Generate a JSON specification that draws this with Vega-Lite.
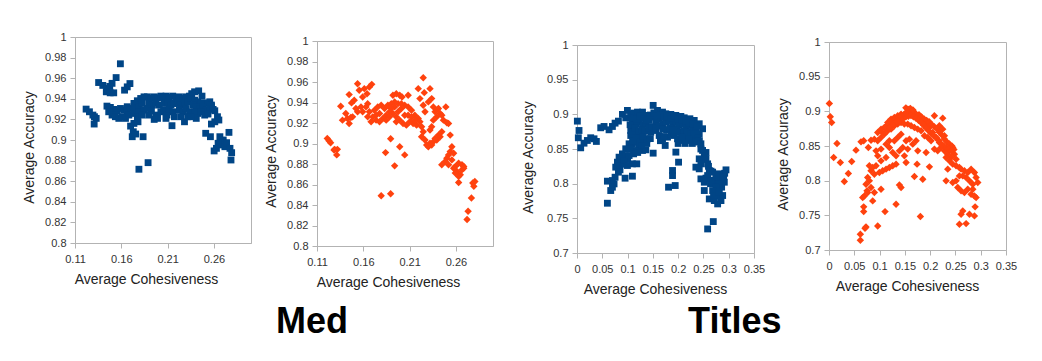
{
 "$schema": "https://vega.github.io/schema/vega-lite/v6.json",
 "background": "white",
 "padding": {"left": 22, "top": 30, "right": 5, "bottom": 5},
 "config": {
   "font": "Liberation Sans",
   "view": {"stroke": "#b3b3b3", "strokeWidth": 1},
   "axis": {"grid": false, "domainColor": "#b3b3b3", "tickColor": "#b3b3b3", "tickSize": 5, "labelFont": "Liberation Sans", "labelFontSize": 11, "labelColor": "#333333", "titleFont": "Liberation Sans", "titleFontSize": 14, "titleFontWeight": "normal", "titleColor": "#222222", "labelFlush": false, "labelOverlap": false, "labelPadding": 4, "titlePadding": 8},
   "axisX": {"labelPadding": 5, "titlePadding": 8}
 },
 "datasets": {
  "p1": [
   {"c":0.159,"a":0.974},{"c":0.1544,"a":0.9606},{"c":0.1355,"a":0.9558},{"c":0.140,"a":0.953},{"c":0.1445,"a":0.950},{"c":0.1475,"a":0.952},{"c":0.150,"a":0.955},{"c":0.1438,"a":0.9468},{"c":0.148,"a":0.9458},{"c":0.1518,"a":0.9458},{"c":0.1693,"a":0.9548},{"c":0.1664,"a":0.9516},{"c":0.1635,"a":0.9484},
   {"c":0.122,"a":0.930},{"c":0.1256,"a":0.9274},{"c":0.1293,"a":0.9242},{"c":0.1329,"a":0.921},{"c":0.1307,"a":0.9155},{"c":0.131,"a":0.9226},
   {"c":0.1736,"a":0.9161},{"c":0.178,"a":0.9177},{"c":0.170,"a":0.9135},{"c":0.1729,"a":0.908},{"c":0.1718,"a":0.9032},{"c":0.1755,"a":0.9058},{"c":0.1835,"a":0.9032},{"c":0.2147,"a":0.9139},{"c":0.1889,"a":0.878},{"c":0.179,"a":0.8716},
   {"c":0.2391,"a":0.9468},{"c":0.2435,"a":0.9477},{"c":0.236,"a":0.945},{"c":0.2471,"a":0.9426},{"c":0.2555,"a":0.9371},{"c":0.2573,"a":0.9323},{"c":0.2609,"a":0.9284},{"c":0.2638,"a":0.9226},{"c":0.2609,"a":0.9177},{"c":0.2573,"a":0.9155},{"c":0.2653,"a":0.9194},{"c":0.2511,"a":0.9065},{"c":0.2562,"a":0.9032},{"c":0.2664,"a":0.9032},{"c":0.2762,"a":0.9074},{"c":0.27,"a":0.90},{"c":0.2682,"a":0.8952},{"c":0.2645,"a":0.8968},{"c":0.2602,"a":0.8894},{"c":0.2627,"a":0.8919},{"c":0.2718,"a":0.8935},{"c":0.2736,"a":0.8974},{"c":0.2773,"a":0.8919},{"c":0.2791,"a":0.8877},{"c":0.2784,"a":0.8806},
   {"c":0.1445,"a":0.9329},{"c":0.1482,"a":0.9316},{"c":0.1518,"a":0.9297},{"c":0.1555,"a":0.9284},{"c":0.15,"a":0.9242},{"c":0.1536,"a":0.9226},{"c":0.1573,"a":0.921},{"c":0.1464,"a":0.9274},{"c":0.1591,"a":0.9306},{"c":0.1627,"a":0.929},{"c":0.1664,"a":0.9274},{"c":0.1609,"a":0.9226},{"c":0.1645,"a":0.921},{"c":0.1682,"a":0.9242},{"c":0.17,"a":0.9306},{"c":0.1664,"a":0.9323},
   {"c":0.1736,"a":0.9355},{"c":0.1773,"a":0.9381},{"c":0.1809,"a":0.9403},{"c":0.1845,"a":0.9419},{"c":0.1755,"a":0.9306},{"c":0.1791,"a":0.9323},{"c":0.1827,"a":0.9355},{"c":0.1736,"a":0.9258},{"c":0.1791,"a":0.9274},{"c":0.1845,"a":0.929},{"c":0.1773,"a":0.9226},{"c":0.1827,"a":0.9242},
   {"c":0.1882,"a":0.9419},{"c":0.1918,"a":0.9403},{"c":0.1955,"a":0.9419},{"c":0.1991,"a":0.941},{"c":0.2027,"a":0.9426},{"c":0.19,"a":0.9355},{"c":0.1936,"a":0.9339},{"c":0.1973,"a":0.9361},{"c":0.2009,"a":0.9339},{"c":0.1882,"a":0.9306},{"c":0.1925,"a":0.9284},{"c":0.1973,"a":0.9242},{"c":0.1991,"a":0.921},{"c":0.1955,"a":0.92},{"c":0.2027,"a":0.9274},{"c":0.19,"a":0.9242},
   {"c":0.2045,"a":0.9419},{"c":0.2082,"a":0.9426},{"c":0.2118,"a":0.9413},{"c":0.2155,"a":0.9426},{"c":0.2064,"a":0.9355},{"c":0.21,"a":0.9361},{"c":0.2136,"a":0.9339},{"c":0.2173,"a":0.9355},{"c":0.2056,"a":0.929},{"c":0.2093,"a":0.9242},{"c":0.2118,"a":0.9297},{"c":0.2155,"a":0.9274},{"c":0.2082,"a":0.921},{"c":0.2173,"a":0.9226},
   {"c":0.2191,"a":0.9403},{"c":0.2227,"a":0.9419},{"c":0.2264,"a":0.9403},{"c":0.23,"a":0.9419},{"c":0.2336,"a":0.9426},{"c":0.2209,"a":0.9355},{"c":0.2245,"a":0.9339},{"c":0.2282,"a":0.9355},{"c":0.2318,"a":0.9371},{"c":0.2227,"a":0.929},{"c":0.2264,"a":0.9274},{"c":0.23,"a":0.9306},{"c":0.2245,"a":0.9226},{"c":0.2282,"a":0.9177},{"c":0.2336,"a":0.9274},{"c":0.2318,"a":0.9226},
   {"c":0.2355,"a":0.9403},{"c":0.2391,"a":0.9387},{"c":0.2427,"a":0.9371},{"c":0.2464,"a":0.9355},{"c":0.25,"a":0.9361},{"c":0.2536,"a":0.9355},{"c":0.2573,"a":0.9339},{"c":0.2373,"a":0.9339},{"c":0.2409,"a":0.9323},{"c":0.2445,"a":0.9306},{"c":0.2482,"a":0.9316},{"c":0.2518,"a":0.929},{"c":0.2555,"a":0.9306},{"c":0.2591,"a":0.9297},{"c":0.2391,"a":0.9274},{"c":0.2427,"a":0.9258},{"c":0.2464,"a":0.9274},{"c":0.25,"a":0.9242},{"c":0.2536,"a":0.9252},{"c":0.2409,"a":0.921},{"c":0.2355,"a":0.9226}
  ],
  "p2": [
   {"c":0.1211,"a":0.905},{"c":0.1229,"a":0.9027},{"c":0.1247,"a":0.9008},{"c":0.1291,"a":0.8943},{"c":0.132,"a":0.8943},{"c":0.1313,"a":0.8889},{"c":0.1284,"a":0.8937},
   {"c":0.1356,"a":0.9363},{"c":0.1375,"a":0.9228},{"c":0.1411,"a":0.9292},{"c":0.1429,"a":0.9244},{"c":0.1447,"a":0.9195},{"c":0.1465,"a":0.9254},{"c":0.1447,"a":0.9477},{"c":0.1473,"a":0.9396},{"c":0.1502,"a":0.9422},{"c":0.152,"a":0.9341},{"c":0.1538,"a":0.9583},{"c":0.1556,"a":0.9519},{"c":0.1575,"a":0.9357},{"c":0.1593,"a":0.9454},{"c":0.1611,"a":0.9535},{"c":0.164,"a":0.9486},{"c":0.1665,"a":0.9551},{"c":0.1691,"a":0.9577},{"c":0.1647,"a":0.9389},{"c":0.1538,"a":0.9309},{"c":0.1593,"a":0.9309},{"c":0.1484,"a":0.926},
   {"c":0.1629,"a":0.9357},{"c":0.1665,"a":0.9309},{"c":0.1702,"a":0.926},{"c":0.1738,"a":0.9228},{"c":0.1775,"a":0.9212},{"c":0.1647,"a":0.926},{"c":0.1684,"a":0.9212},{"c":0.172,"a":0.9325},{"c":0.1756,"a":0.9357},{"c":0.1793,"a":0.9373},{"c":0.1829,"a":0.9341},{"c":0.1865,"a":0.9373},{"c":0.1902,"a":0.9389},{"c":0.1938,"a":0.9406},{"c":0.192,"a":0.947},{"c":0.1956,"a":0.9486},{"c":0.1993,"a":0.947},{"c":0.2018,"a":0.9454},{"c":0.2047,"a":0.9373},{"c":0.2084,"a":0.9357},{"c":0.212,"a":0.9325},{"c":0.2156,"a":0.9276},{"c":0.2193,"a":0.9244},{"c":0.2211,"a":0.9212},{"c":0.2175,"a":0.9179},{"c":0.2138,"a":0.9195},{"c":0.2102,"a":0.9212},{"c":0.2065,"a":0.9179},{"c":0.2029,"a":0.9195},{"c":0.1993,"a":0.9228},{"c":0.1956,"a":0.926},{"c":0.192,"a":0.9292},{"c":0.1884,"a":0.9309},{"c":0.1847,"a":0.9276},{"c":0.1811,"a":0.9244},{"c":0.1775,"a":0.9292},{"c":0.1738,"a":0.9276},{"c":0.1975,"a":0.9309},{"c":0.2011,"a":0.9341},{"c":0.2047,"a":0.9276},{"c":0.2084,"a":0.9276},{"c":0.212,"a":0.926},{"c":0.2156,"a":0.9228},{"c":0.1938,"a":0.9357},{"c":0.1902,"a":0.9341},{"c":0.1975,"a":0.9389},{"c":0.2011,"a":0.9389},{"c":0.1847,"a":0.9228},{"c":0.1884,"a":0.926},{"c":0.1956,"a":0.9212},{"c":0.2084,"a":0.947},
   {"c":0.2247,"a":0.9641},{"c":0.2193,"a":0.9535},{"c":0.2258,"a":0.9496},{"c":0.232,"a":0.9535},{"c":0.2211,"a":0.9438},{"c":0.2247,"a":0.9373},{"c":0.2302,"a":0.9406},{"c":0.2338,"a":0.9438},{"c":0.2266,"a":0.9309},{"c":0.2356,"a":0.9357},{"c":0.2375,"a":0.9309},{"c":0.2411,"a":0.9341},{"c":0.2429,"a":0.9292},{"c":0.2393,"a":0.926},{"c":0.2447,"a":0.9276},{"c":0.2491,"a":0.9357},{"c":0.2465,"a":0.9228},{"c":0.2502,"a":0.9202},{"c":0.252,"a":0.9195},{"c":0.2356,"a":0.9228},{"c":0.2338,"a":0.9163},{"c":0.232,"a":0.9131},
   {"c":0.2229,"a":0.9163},{"c":0.2247,"a":0.9115},{"c":0.2229,"a":0.9066},{"c":0.2266,"a":0.9034},{"c":0.2284,"a":0.8985},{"c":0.232,"a":0.9002},{"c":0.2356,"a":0.9018},{"c":0.2393,"a":0.9034},{"c":0.2429,"a":0.9066},{"c":0.2447,"a":0.9115},{"c":0.2411,"a":0.9082},{"c":0.2375,"a":0.905},{"c":0.2302,"a":0.8969},{"c":0.2338,"a":0.8985},{"c":0.2538,"a":0.9082},
   {"c":0.2556,"a":0.8969},{"c":0.2538,"a":0.8921},{"c":0.252,"a":0.8889},{"c":0.2502,"a":0.8856},{"c":0.2484,"a":0.8824},{"c":0.2447,"a":0.8792},{"c":0.252,"a":0.8792},{"c":0.2556,"a":0.884},{"c":0.2575,"a":0.8905},{"c":0.2593,"a":0.8775},{"c":0.2629,"a":0.8808},{"c":0.2665,"a":0.8792},{"c":0.2684,"a":0.8759},{"c":0.2611,"a":0.8727},{"c":0.2647,"a":0.8695},{"c":0.2665,"a":0.8743},{"c":0.2575,"a":0.8759},{"c":0.2593,"a":0.8711},{"c":0.2629,"a":0.8679},{"c":0.2629,"a":0.862},{"c":0.2684,"a":0.8775},
   {"c":0.2782,"a":0.8614},{"c":0.2804,"a":0.863},{"c":0.2793,"a":0.8582},{"c":0.2767,"a":0.8468},{"c":0.2731,"a":0.8339},{"c":0.272,"a":0.8258},
   {"c":0.1895,"a":0.9047},{"c":0.184,"a":0.8911},{"c":0.1993,"a":0.8969},{"c":0.2047,"a":0.8889},{"c":0.1938,"a":0.8782},{"c":0.1793,"a":0.8491},{"c":0.1895,"a":0.851}
  ],
  "p3": [
   {"c":0.0007,"a":0.8902},{"c":0.004,"a":0.8767},{"c":0.0026,"a":0.8662},{"c":0.0073,"a":0.8517},{"c":0.0139,"a":0.8584},{"c":0.0205,"a":0.8623},{"c":0.0271,"a":0.8662},{"c":0.0337,"a":0.8647},{"c":0.0383,"a":0.8609},{"c":0.0469,"a":0.8806},{"c":0.0535,"a":0.8825},{"c":0.0634,"a":0.8777},{"c":0.07,"a":0.8825},{"c":0.0753,"a":0.8873},{"c":0.0819,"a":0.8902},
   {"c":0.0898,"a":0.8999},{"c":0.0997,"a":0.9056},{"c":0.0964,"a":0.895},{"c":0.1063,"a":0.9008},{"c":0.1129,"a":0.9018},{"c":0.1196,"a":0.9032},{"c":0.1295,"a":0.9032},{"c":0.1361,"a":0.8984},{"c":0.1506,"a":0.9129},{"c":0.1592,"a":0.9056},{"c":0.1691,"a":0.9032},{"c":0.1757,"a":0.9008},{"c":0.1856,"a":0.8999},{"c":0.1955,"a":0.8984},{"c":0.2054,"a":0.897},{"c":0.212,"a":0.895},{"c":0.2232,"a":0.8936},{"c":0.2318,"a":0.8912},{"c":0.2417,"a":0.8864},{"c":0.2483,"a":0.8792},
   {"c":0.1096,"a":0.8912},{"c":0.1162,"a":0.8864},{"c":0.1229,"a":0.8888},{"c":0.1295,"a":0.884},{"c":0.1361,"a":0.8864},{"c":0.1427,"a":0.8912},{"c":0.1493,"a":0.896},{"c":0.1559,"a":0.8888},{"c":0.1625,"a":0.8936},{"c":0.1691,"a":0.8864},{"c":0.1757,"a":0.8888},{"c":0.1823,"a":0.8912},{"c":0.1889,"a":0.8864},{"c":0.1955,"a":0.8888},{"c":0.2021,"a":0.884},{"c":0.2087,"a":0.8864},{"c":0.2153,"a":0.8816},{"c":0.2219,"a":0.884},{"c":0.2285,"a":0.8792},{"c":0.2351,"a":0.8767},{"c":0.2417,"a":0.8719},
   {"c":0.1129,"a":0.8767},{"c":0.1196,"a":0.8719},{"c":0.1262,"a":0.8671},{"c":0.1328,"a":0.8623},{"c":0.1394,"a":0.8647},{"c":0.146,"a":0.8743},{"c":0.1559,"a":0.8767},{"c":0.1625,"a":0.8695},{"c":0.1691,"a":0.8647},{"c":0.1744,"a":0.8551},{"c":0.179,"a":0.8671},{"c":0.1856,"a":0.8719},{"c":0.1922,"a":0.8695},{"c":0.1988,"a":0.8647},{"c":0.2054,"a":0.8623},{"c":0.212,"a":0.8671},{"c":0.2186,"a":0.8695},{"c":0.2252,"a":0.8623},{"c":0.2318,"a":0.8647},{"c":0.1063,"a":0.8695},{"c":0.103,"a":0.8575},{"c":0.1096,"a":0.8575},{"c":0.1162,"a":0.8599},{"c":0.1229,"a":0.8527},{"c":0.1295,"a":0.8479},{"c":0.1361,"a":0.8488},{"c":0.1506,"a":0.844},{"c":0.1955,"a":0.8455},{"c":0.2008,"a":0.831},{"c":0.1889,"a":0.819},{"c":0.1889,"a":0.8117},{"c":0.181,"a":0.7949},{"c":0.1942,"a":0.7973},{"c":0.1063,"a":0.8767},{"c":0.1149,"a":0.8479},
   {"c":0.105,"a":0.885},{"c":0.112,"a":0.895},{"c":0.118,"a":0.893},{"c":0.125,"a":0.898},{"c":0.132,"a":0.894},{"c":0.138,"a":0.892},{"c":0.145,"a":0.899},{"c":0.152,"a":0.902},{"c":0.158,"a":0.898},{"c":0.165,"a":0.899},{"c":0.172,"a":0.896},{"c":0.178,"a":0.898},{"c":0.185,"a":0.894},{"c":0.192,"a":0.897},{"c":0.2,"a":0.893},{"c":0.208,"a":0.892},{"c":0.215,"a":0.89},{"c":0.222,"a":0.888},{"c":0.23,"a":0.886},{"c":0.238,"a":0.883},
   {"c":0.108,"a":0.874},{"c":0.115,"a":0.88},{"c":0.122,"a":0.876},{"c":0.128,"a":0.878},{"c":0.135,"a":0.876},{"c":0.142,"a":0.88},{"c":0.149,"a":0.882},{"c":0.156,"a":0.88},{"c":0.163,"a":0.883},{"c":0.17,"a":0.879},{"c":0.177,"a":0.878},{"c":0.184,"a":0.88},{"c":0.19,"a":0.878},{"c":0.197,"a":0.877},{"c":0.204,"a":0.874},{"c":0.211,"a":0.876},{"c":0.218,"a":0.874},{"c":0.225,"a":0.872},{"c":0.232,"a":0.871},{"c":0.239,"a":0.866},
   {"c":0.11,"a":0.862},{"c":0.117,"a":0.866},{"c":0.124,"a":0.86},{"c":0.131,"a":0.868},{"c":0.138,"a":0.858},{"c":0.145,"a":0.865},{"c":0.165,"a":0.862},{"c":0.172,"a":0.868},{"c":0.2,"a":0.858},{"c":0.207,"a":0.867},{"c":0.214,"a":0.858},{"c":0.221,"a":0.865},{"c":0.228,"a":0.858},{"c":0.235,"a":0.86},{"c":0.242,"a":0.862},
   {"c":0.105,"a":0.85},{"c":0.112,"a":0.843},{"c":0.12,"a":0.845},{"c":0.128,"a":0.855},{"c":0.095,"a":0.84},{"c":0.1,"a":0.835},{"c":0.088,"a":0.828},{"c":0.085,"a":0.82},
   {"c":0.245,"a":0.85},{"c":0.25,"a":0.835},{"c":0.255,"a":0.845},{"c":0.26,"a":0.825},{"c":0.265,"a":0.818},{"c":0.27,"a":0.805},{"c":0.276,"a":0.8},{"c":0.282,"a":0.805},{"c":0.286,"a":0.795},{"c":0.29,"a":0.81},{"c":0.292,"a":0.815},{"c":0.278,"a":0.782},{"c":0.27,"a":0.785},{"c":0.264,"a":0.8},{"c":0.255,"a":0.808},
   {"c":0.0964,"a":0.8503},{"c":0.0898,"a":0.843},{"c":0.0832,"a":0.8382},{"c":0.0799,"a":0.831},{"c":0.0766,"a":0.8238},{"c":0.0865,"a":0.8358},{"c":0.0931,"a":0.8334},{"c":0.103,"a":0.8406},{"c":0.0997,"a":0.8262},{"c":0.1096,"a":0.8286},{"c":0.1182,"a":0.8286},{"c":0.0819,"a":0.8166},{"c":0.0753,"a":0.8093},{"c":0.07,"a":0.8045},{"c":0.0601,"a":0.8036},{"c":0.0733,"a":0.7997},{"c":0.0667,"a":0.7901},{"c":0.07,"a":0.7949},{"c":0.0601,"a":0.7718},{"c":0.0951,"a":0.8079},{"c":0.1096,"a":0.8108},
   {"c":0.245,"a":0.8575},{"c":0.2483,"a":0.8479},{"c":0.2517,"a":0.8406},{"c":0.2417,"a":0.8358},{"c":0.255,"a":0.8358},{"c":0.2583,"a":0.8286},{"c":0.245,"a":0.8286},{"c":0.2351,"a":0.8238},{"c":0.2417,"a":0.8214},{"c":0.2616,"a":0.819},{"c":0.2682,"a":0.8166},{"c":0.2583,"a":0.8117},{"c":0.245,"a":0.8069},{"c":0.2517,"a":0.8021},{"c":0.2649,"a":0.8045},{"c":0.2748,"a":0.8117},{"c":0.2814,"a":0.8142},{"c":0.288,"a":0.8093},{"c":0.2946,"a":0.8199},{"c":0.2913,"a":0.8021},{"c":0.2814,"a":0.7997},{"c":0.2748,"a":0.7949},{"c":0.2682,"a":0.7901},{"c":0.2616,"a":0.778},{"c":0.2715,"a":0.7756},{"c":0.2781,"a":0.7708},{"c":0.2847,"a":0.7756},{"c":0.288,"a":0.7829},{"c":0.2517,"a":0.7901},{"c":0.2715,"a":0.7829},{"c":0.2814,"a":0.7877},
   {"c":0.2583,"a":0.7347},{"c":0.2695,"a":0.7453}
  ],
  "p4": [
   {"c":0.0007,"a":0.9114},{"c":0.0026,"a":0.8922},{"c":0.0053,"a":0.884},{"c":0.0158,"a":0.8536},{"c":0.0092,"a":0.8334},{"c":0.0224,"a":0.8262},{"c":0.0303,"a":0.7988},{"c":0.0383,"a":0.8103},{"c":0.0449,"a":0.8276},{"c":0.0534,"a":0.844},{"c":0.0633,"a":0.856},{"c":0.0686,"a":0.8575},{"c":0.0778,"a":0.8479},{"c":0.0831,"a":0.8584},{"c":0.0897,"a":0.8599},
   {"c":0.0963,"a":0.8695},{"c":0.1029,"a":0.8743},{"c":0.1095,"a":0.8767},{"c":0.1161,"a":0.884},{"c":0.1227,"a":0.8888},{"c":0.1293,"a":0.8912},{"c":0.1359,"a":0.8936},{"c":0.1425,"a":0.896},{"c":0.1524,"a":0.8984},{"c":0.159,"a":0.9032},{"c":0.1656,"a":0.9008},{"c":0.1722,"a":0.896},{"c":0.1788,"a":0.8912},{"c":0.1854,"a":0.8864},{"c":0.192,"a":0.8816},{"c":0.1986,"a":0.8767},{"c":0.2084,"a":0.8936},{"c":0.2249,"a":0.8902},{"c":0.2183,"a":0.8792},{"c":0.2249,"a":0.8743},{"c":0.2282,"a":0.8647},{"c":0.2051,"a":0.8695},{"c":0.2117,"a":0.8623},{"c":0.2183,"a":0.8551},{"c":0.2249,"a":0.8503},{"c":0.2315,"a":0.8455},{"c":0.2381,"a":0.843},{"c":0.2447,"a":0.8479},{"c":0.248,"a":0.8382},{"c":0.2513,"a":0.831},{"c":0.2414,"a":0.8334},{"c":0.2348,"a":0.8382},{"c":0.2282,"a":0.843},{"c":0.2216,"a":0.8479},{"c":0.215,"a":0.843},{"c":0.2084,"a":0.8455},{"c":0.2018,"a":0.8575},{"c":0.1953,"a":0.8623},{"c":0.1887,"a":0.8647},{"c":0.1821,"a":0.8719},{"c":0.1755,"a":0.8743},{"c":0.1689,"a":0.8767},{"c":0.1623,"a":0.8792},{"c":0.1557,"a":0.8816},{"c":0.1491,"a":0.8816},{"c":0.1425,"a":0.884},{"c":0.1359,"a":0.8816},{"c":0.1293,"a":0.8792},{"c":0.1227,"a":0.8743},{"c":0.1161,"a":0.8719},{"c":0.1095,"a":0.8671},{"c":0.1029,"a":0.8623},{"c":0.0963,"a":0.8575},{"c":0.093,"a":0.843},{"c":0.0963,"a":0.8358},{"c":0.1029,"a":0.8455},{"c":0.1128,"a":0.8527},{"c":0.1194,"a":0.8479},{"c":0.126,"a":0.8406},{"c":0.1326,"a":0.8358},{"c":0.1392,"a":0.843},{"c":0.1458,"a":0.8479},{"c":0.1524,"a":0.8575},{"c":0.159,"a":0.8599},{"c":0.1656,"a":0.8527},{"c":0.1722,"a":0.8575},{"c":0.1557,"a":0.8455},{"c":0.1491,"a":0.8358},{"c":0.1425,"a":0.8671},{"c":0.1359,"a":0.8623},{"c":0.1293,"a":0.8575},{"c":0.1194,"a":0.8575},{"c":0.1755,"a":0.843},{"c":0.192,"a":0.8406},{"c":0.1986,"a":0.8199},{"c":0.1741,"a":0.8238},{"c":0.1689,"a":0.806},{"c":0.1854,"a":0.8021},{"c":0.1524,"a":0.8262},{"c":0.1128,"a":0.8334},{"c":0.1029,"a":0.8286},
   {"c":0.105,"a":0.87},{"c":0.112,"a":0.878},{"c":0.118,"a":0.882},{"c":0.124,"a":0.886},{"c":0.13,"a":0.888},{"c":0.136,"a":0.89},{"c":0.142,"a":0.893},{"c":0.148,"a":0.895},{"c":0.153,"a":0.897},{"c":0.158,"a":0.899},{"c":0.163,"a":0.9},{"c":0.168,"a":0.898},{"c":0.173,"a":0.895},{"c":0.178,"a":0.895},{"c":0.183,"a":0.892},{"c":0.188,"a":0.889},{"c":0.193,"a":0.887},{"c":0.198,"a":0.885},{"c":0.203,"a":0.881},{"c":0.208,"a":0.878},{"c":0.213,"a":0.875},{"c":0.218,"a":0.87},{"c":0.223,"a":0.866},{"c":0.228,"a":0.86},{"c":0.233,"a":0.856},{"c":0.238,"a":0.853},{"c":0.243,"a":0.85},{"c":0.247,"a":0.845},
   {"c":0.12,"a":0.877},{"c":0.127,"a":0.882},{"c":0.134,"a":0.885},{"c":0.14,"a":0.886},{"c":0.146,"a":0.889},{"c":0.152,"a":0.892},{"c":0.157,"a":0.893},{"c":0.162,"a":0.894},{"c":0.167,"a":0.892},{"c":0.172,"a":0.89},{"c":0.177,"a":0.887},{"c":0.182,"a":0.884},{"c":0.187,"a":0.88},{"c":0.192,"a":0.876},{"c":0.197,"a":0.872},{"c":0.202,"a":0.868},{"c":0.207,"a":0.865},{"c":0.212,"a":0.862},{"c":0.217,"a":0.858},{"c":0.222,"a":0.853},{"c":0.227,"a":0.85},{"c":0.232,"a":0.848},{"c":0.237,"a":0.846},{"c":0.242,"a":0.843},
   {"c":0.152,"a":0.905},{"c":0.156,"a":0.903},{"c":0.161,"a":0.904},{"c":0.166,"a":0.902},
   {"c":0.0798,"a":0.8214},{"c":0.0864,"a":0.819},{"c":0.093,"a":0.8214},{"c":0.0831,"a":0.8142},{"c":0.0897,"a":0.8093},{"c":0.0996,"a":0.8117},{"c":0.1062,"a":0.8142},{"c":0.1128,"a":0.8166},{"c":0.1194,"a":0.819},{"c":0.126,"a":0.8214},{"c":0.1326,"a":0.8238},{"c":0.0765,"a":0.8045},{"c":0.0798,"a":0.7997},{"c":0.0732,"a":0.7949},{"c":0.0831,"a":0.7901},{"c":0.0752,"a":0.7853},{"c":0.0699,"a":0.778},{"c":0.0666,"a":0.7756},{"c":0.0765,"a":0.7829},{"c":0.0897,"a":0.7829},{"c":0.1029,"a":0.7877},{"c":0.0864,"a":0.7708},{"c":0.0686,"a":0.7622},{"c":0.0686,"a":0.7554},{"c":0.1108,"a":0.7554},{"c":0.1326,"a":0.766},{"c":0.1392,"a":0.7939},{"c":0.1425,"a":0.7901},
   {"c":0.0732,"a":0.7333},{"c":0.0712,"a":0.7313},{"c":0.062,"a":0.7227},{"c":0.062,"a":0.714},{"c":0.0963,"a":0.7347},{"c":0.1807,"a":0.7482},
   {"c":0.2315,"a":0.8334},{"c":0.2381,"a":0.8286},{"c":0.2447,"a":0.8238},{"c":0.2513,"a":0.8214},{"c":0.2579,"a":0.819},{"c":0.2612,"a":0.8166},{"c":0.2678,"a":0.8142},{"c":0.2744,"a":0.8117},{"c":0.281,"a":0.8166},{"c":0.2876,"a":0.8117},{"c":0.2942,"a":0.7973},{"c":0.2909,"a":0.8045},{"c":0.2843,"a":0.7949},{"c":0.2777,"a":0.7997},{"c":0.2711,"a":0.8045},{"c":0.2645,"a":0.8069},{"c":0.2579,"a":0.8069},{"c":0.2513,"a":0.7997},{"c":0.2447,"a":0.7973},{"c":0.2546,"a":0.7901},{"c":0.2612,"a":0.7853},{"c":0.2678,"a":0.7829},{"c":0.2744,"a":0.7877},{"c":0.281,"a":0.7805},{"c":0.2876,"a":0.778},{"c":0.2909,"a":0.7756},{"c":0.2843,"a":0.7877},{"c":0.2315,"a":0.7997},{"c":0.2348,"a":0.8166},
   {"c":0.2645,"a":0.7564},{"c":0.2612,"a":0.7516},{"c":0.2579,"a":0.7371},{"c":0.2711,"a":0.7381},{"c":0.2777,"a":0.7516},{"c":0.2876,"a":0.7492},{"c":0.2889,"a":0.7622}
  ]
 },
 "spacing": 27,
 "hconcat": [
  {
   "spacing": 12,
   "title": {"text": "Med", "orient": "bottom", "anchor": "start", "fontSize": 36, "fontWeight": "bold", "color": "#000000", "font": "Liberation Sans", "dx": 254, "offset": 15},
   "hconcat": [
    {
     "width": 176, "height": 206,
     "data": {"name": "p1"},
     "mark": {"type": "square", "size": 47, "color": "#004586", "opacity": 1},
     "encoding": {
      "x": {"field": "c", "type": "quantitative", "scale": {"domain": [0.11, 0.30], "nice": false, "zero": false}, "axis": {"values": [0.11, 0.16, 0.21, 0.26], "format": "~g", "title": "Average Cohesiveness", "titleX": 71}},
      "y": {"field": "a", "type": "quantitative", "scale": {"domain": [0.8, 1], "nice": false, "zero": false}, "axis": {"values": [0.8, 0.82, 0.84, 0.86, 0.88, 0.9, 0.92, 0.94, 0.96, 0.98, 1], "format": "~g", "title": "Average Accuracy", "titleY": 110}}
     }
    },
    {
     "spacing": -4,
     "vconcat": [
      {"width": 176, "height": 1, "view": {"stroke": null}, "data": {"values": [{"k": 0}]}, "mark": {"type": "point", "size": 0, "opacity": 0}, "encoding": {}},
      {
       "width": 176, "height": 205,
       "data": {"name": "p2"},
       "mark": {"type": "point", "shape": "diamond", "filled": true, "size": 55, "color": "#ff420e", "opacity": 1},
       "encoding": {
        "x": {"field": "c", "type": "quantitative", "scale": {"domain": [0.11, 0.30], "nice": false, "zero": false}, "axis": {"values": [0.11, 0.16, 0.21, 0.26], "format": "~g", "title": "Average Cohesiveness", "titleX": 71}},
        "y": {"field": "a", "type": "quantitative", "scale": {"domain": [0.8, 1], "nice": false, "zero": false}, "axis": {"values": [0.8, 0.82, 0.84, 0.86, 0.88, 0.9, 0.92, 0.94, 0.96, 0.98, 1], "format": "~g", "title": "Average Accuracy", "titleY": 110}}
       }
      }
     ]
    }
   ]
  },
  {
   "spacing": 10,
   "title": {"text": "Titles", "orient": "bottom", "anchor": "start", "fontSize": 36, "fontWeight": "bold", "color": "#000000", "font": "Liberation Sans", "dx": 167, "offset": 8},
   "hconcat": [
    {
     "spacing": 0,
     "vconcat": [
      {"width": 177, "height": 1, "view": {"stroke": null}, "data": {"values": [{"k": 0}]}, "mark": {"type": "point", "size": 0, "opacity": 0}, "encoding": {}},
      {
       "width": 177, "height": 208,
       "data": {"name": "p3"},
       "mark": {"type": "square", "size": 47, "color": "#004586", "opacity": 1},
       "encoding": {
        "x": {"field": "c", "type": "quantitative", "scale": {"domain": [0, 0.35], "nice": false, "zero": false}, "axis": {"values": [0, 0.05, 0.1, 0.15, 0.2, 0.25, 0.3, 0.35], "format": "~g", "title": "Average Cohesiveness", "titleX": 78}},
        "y": {"field": "a", "type": "quantitative", "scale": {"domain": [0.7, 1], "nice": false, "zero": false}, "axis": {"values": [0.7, 0.75, 0.8, 0.85, 0.9, 0.95, 1], "format": "~g", "title": "Average Accuracy", "titleY": 112, "titlePadding": 11}}
       }
      }
     ]
    },
    {
     "spacing": -3,
     "vconcat": [
      {"width": 177, "height": 1, "view": {"stroke": null}, "data": {"values": [{"k": 0}]}, "mark": {"type": "point", "size": 0, "opacity": 0}, "encoding": {}},
      {
       "width": 177, "height": 208,
       "data": {"name": "p4"},
       "mark": {"type": "point", "shape": "diamond", "filled": true, "size": 55, "color": "#ff420e", "opacity": 1},
       "encoding": {
        "x": {"field": "c", "type": "quantitative", "scale": {"domain": [0, 0.35], "nice": false, "zero": false}, "axis": {"values": [0, 0.05, 0.1, 0.15, 0.2, 0.25, 0.3, 0.35], "format": "~g", "title": "Average Cohesiveness", "titleX": 78}},
        "y": {"field": "a", "type": "quantitative", "scale": {"domain": [0.7, 1], "nice": false, "zero": false}, "axis": {"values": [0.7, 0.75, 0.8, 0.85, 0.9, 0.95, 1], "format": "~g", "title": "Average Accuracy", "titleY": 112}}
       }
      }
     ]
    }
   ]
  }
 ]
}
